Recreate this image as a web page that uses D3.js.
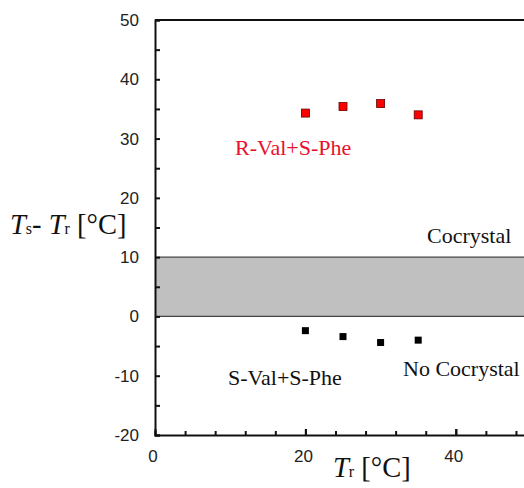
<!DOCTYPE html>
<html>
<head>
<meta charset="utf-8">
<script src="https://cdn.jsdelivr.net/npm/d3@7"></script>
<style>
  body { margin: 0; background: #fff; }
  svg { display: block; }
</style>
</head>
<body>
<script>
// data
var tr = [20, 25, 30, 35];
var rValSPhe = [34.3, 35.4, 35.9, 34.0];
var sValSPhe = [-2.4, -3.4, -4.4, -4.0];
var band = [0, 10];          // shaded cocrystal boundary band
var xTickLabels = [0, 20, 40];
var yTickLabels = [-20, -10, 0, 10, 20, 30, 40, 50];

var width = 524,
  height = 488,
  margin = {top: 20, left: 155, bottom: 53},
  innerW = 376,
  innerH = height - margin.top - margin.bottom;

var svg = d3.select("body").append("svg")
  .attr("width", width)
  .attr("height", height);

var x = d3.scaleLinear().domain([0, 50]).range([margin.left, margin.left + innerW]);
var y = d3.scaleLinear().domain([-20, 50]).range([margin.top + innerH, margin.top]);

// grey band
svg.append("rect")
  .attr("x", x(0))
  .attr("y", y(band[1]))
  .attr("width", x(50) - x(0))
  .attr("height", y(band[0]) - y(band[1]))
  .attr("fill", "#c0c0c0");
band.forEach(function (v) {
  svg.append("line")
    .attr("x1", x(0)).attr("x2", x(50))
    .attr("y1", y(v)).attr("y2", y(v))
    .attr("stroke", "#444").attr("stroke-width", 1.2);
});

// frame top
svg.append("line")
  .attr("x1", x(0)).attr("x2", x(50))
  .attr("y1", y(50)).attr("y2", y(50))
  .attr("stroke", "#111").attr("stroke-width", 2);

// axes
var yAxis = d3.axisRight(y)
  .tickValues(d3.range(-20, 51, 5))
  .tickSize(5)
  .tickFormat("");
svg.append("g")
  .attr("transform", "translate(" + x(0) + ",0)")
  .call(yAxis)
  .call(function (g) {
    g.select(".domain").attr("stroke", "#111").attr("stroke-width", 2);
    g.selectAll(".tick line").attr("stroke", "#111").attr("stroke-width", 2);
  });

var xAxis = d3.axisTop(x)
  .tickValues(d3.range(0, 51, 4).concat([20, 40]))
  .tickSize(4)
  .tickFormat("");
svg.append("g")
  .attr("transform", "translate(0," + y(-20) + ")")
  .call(xAxis)
  .call(function (g) {
    g.select(".domain").attr("stroke", "#111").attr("stroke-width", 2);
    g.selectAll(".tick line").attr("stroke", "#111").attr("stroke-width", 2)
      .attr("y2", function (d) { return d % 20 === 0 ? -6 : -4; });
  });

// tick labels
var sans = "'Liberation Sans', Arial, sans-serif";
svg.selectAll(".ylab").data(yTickLabels).enter().append("text")
  .attr("x", 139)
  .attr("y", function (d) { return y(d) + 6; })
  .attr("text-anchor", "end")
  .attr("font-family", sans)
  .attr("font-size", "17px")
  .attr("fill", "#222")
  .text(function (d) { return d; });

svg.selectAll(".xlab").data(xTickLabels).enter().append("text")
  .attr("x", function (d) { return x(d) - 2; })
  .attr("y", 462)
  .attr("text-anchor", "middle")
  .attr("font-family", sans)
  .attr("font-size", "17px")
  .attr("fill", "#222")
  .text(function (d) { return d; });

// points
var sz = 8;
svg.selectAll(".red").data(tr).enter().append("rect")
  .attr("x", function (d) { return x(d) - sz / 2; })
  .attr("y", function (d, i) { return y(rValSPhe[i]) - sz / 2; })
  .attr("width", sz).attr("height", sz)
  .attr("fill", "#ff0000").attr("stroke", "#600").attr("stroke-width", 0.8);

svg.selectAll(".blk").data(tr).enter().append("rect")
  .attr("x", function (d) { return x(d) - 3.5; })
  .attr("y", function (d, i) { return y(sValSPhe[i]) - 3.5; })
  .attr("width", 7).attr("height", 7)
  .attr("fill", "#000");

// annotations
var serif = "'Liberation Serif', 'Times New Roman', serif";
function note(t, px, py, col) {
  svg.append("text")
    .attr("x", px).attr("y", py)
    .attr("font-family", serif)
    .attr("font-size", "22px")
    .attr("fill", col)
    .text(t);
}
note("R-Val+S-Phe", 235, 155, "#e8102e");
note("Cocrystal", 427, 243, "#111");
note("No Cocrystal", 403, 376, "#111");
note("S-Val+S-Phe", 228, 385, "#111");

// axis titles
var yt = svg.append("text")
  .attr("x", 10).attr("y", 234)
  .attr("font-family", serif)
  .attr("font-size", "28.5px")
  .attr("fill", "#111");
yt.append("tspan").attr("font-style", "italic").text("T");
yt.append("tspan").attr("font-size", "16px").text("s");
yt.append("tspan").text("- ");
yt.append("tspan").attr("font-style", "italic").text("T");
yt.append("tspan").attr("font-size", "16px").text("r");
yt.append("tspan").text(" [°C]");

var xt = svg.append("text")
  .attr("x", 333).attr("y", 477)
  .attr("font-family", serif)
  .attr("font-size", "28.5px")
  .attr("fill", "#111");
xt.append("tspan").attr("font-style", "italic").text("T");
xt.append("tspan").attr("font-size", "16px").text("r");
xt.append("tspan").text(" [°C]");
</script>
</body>
</html>
